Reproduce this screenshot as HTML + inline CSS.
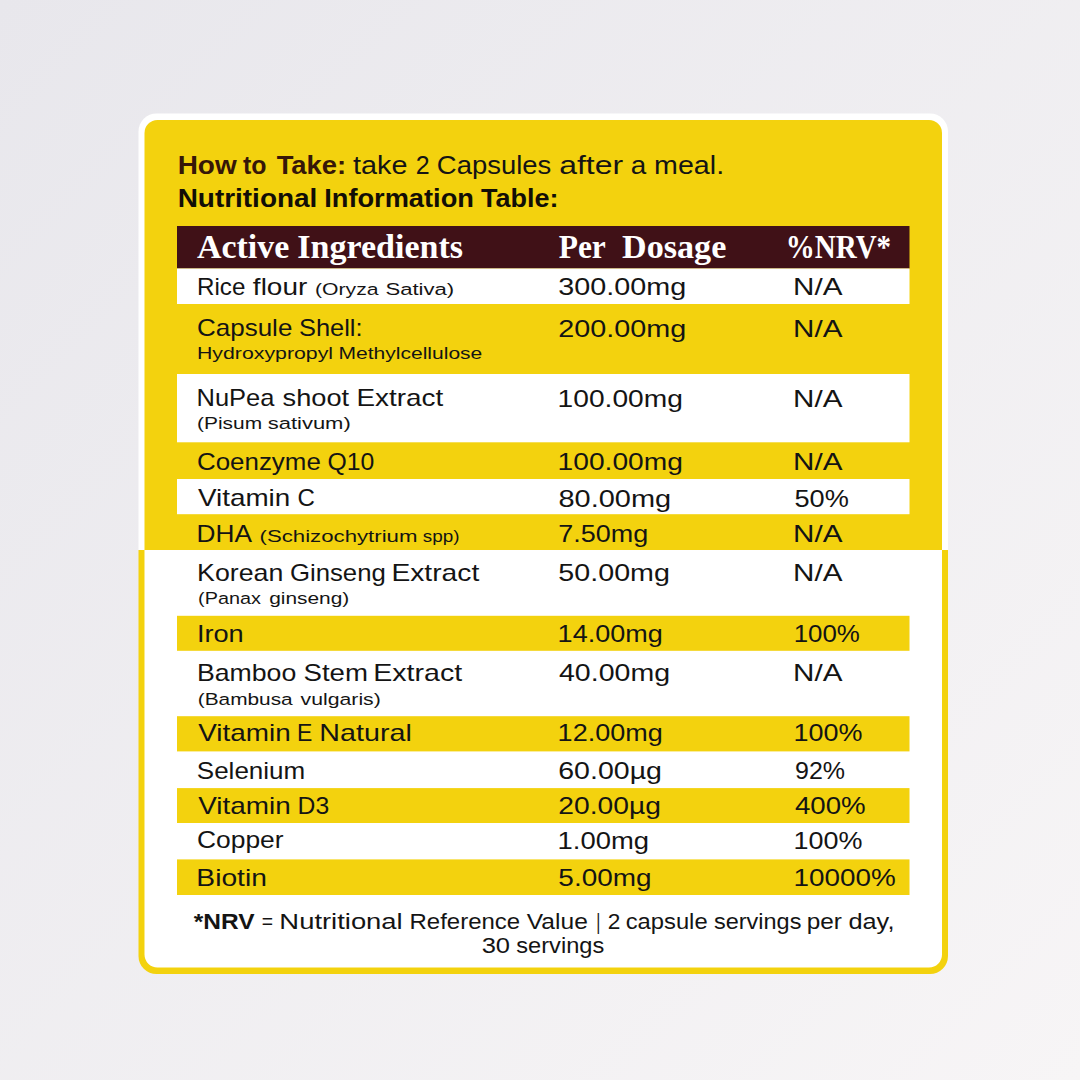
<!DOCTYPE html>
<html><head><meta charset="utf-8"><style>
html,body{margin:0;padding:0;background:#efeef1;}
body{width:1080px;height:1080px;overflow:hidden;font-family:"Liberation Sans", sans-serif;}
svg{display:block;}
</style></head><body>
<svg width="1080" height="1080" viewBox="0 0 1080 1080">
<defs><linearGradient id="bgg" x1="0" y1="0" x2="1" y2="1"><stop offset="0" stop-color="#e8e7ec"/><stop offset="1" stop-color="#f7f5f6"/></linearGradient></defs>
<rect x="0" y="0" width="1080" height="1080" fill="url(#bgg)"/>
<path d="M138.5,550.0 L138.5,131.5 A18,18 0 0 1 156.5,113.5 L930.0,113.5 A18,18 0 0 1 948.0,131.5 L948.0,550.0 Z" fill="#ffffff"/>
<path d="M138.5,550.0 L948.0,550.0 L948.0,956.0 A18,18 0 0 1 930.0,974.0 L156.5,974.0 A18,18 0 0 1 138.5,956.0 Z" fill="#f3d20e"/>
<path d="M144.5,550.0 L144.5,133.0 A13,13 0 0 1 157.5,120.0 L929.0,120.0 A13,13 0 0 1 942.0,133.0 L942.0,550.0 Z" fill="#f3d20e"/>
<path d="M144.5,550.0 L942.0,550.0 L942.0,954.5 A13,13 0 0 1 929.0,967.5 L157.5,967.5 A13,13 0 0 1 144.5,954.5 Z" fill="#ffffff"/>
<rect x="177.0" y="226" width="732.5" height="42.5" fill="#401117"/>
<rect x="177.0" y="268.5" width="732.5" height="35.50" fill="#ffffff"/>
<rect x="177.0" y="374.0" width="732.5" height="68.30" fill="#ffffff"/>
<rect x="177.0" y="479.0" width="732.5" height="35.20" fill="#ffffff"/>
<rect x="177.0" y="615.8" width="732.5" height="35.00" fill="#f3d20e"/>
<rect x="177.0" y="716.2" width="732.5" height="35.20" fill="#f3d20e"/>
<rect x="177.0" y="788.1" width="732.5" height="34.90" fill="#f3d20e"/>
<rect x="177.0" y="859.4" width="732.5" height="35.60" fill="#f3d20e"/>
<text><tspan x="177.65" y="174.00" font-family='"Liberation Sans", sans-serif' font-weight="700" font-size="25.6" fill="#361708" textLength="59.04" lengthAdjust="spacingAndGlyphs">How</tspan> <tspan x="243.06" y="174.00" font-family='"Liberation Sans", sans-serif' font-weight="700" font-size="25.6" fill="#361708" textLength="23.48" lengthAdjust="spacingAndGlyphs">to</tspan> <tspan x="276.67" y="174.00" font-family='"Liberation Sans", sans-serif' font-weight="700" font-size="25.6" fill="#361708" textLength="69.54" lengthAdjust="spacingAndGlyphs">Take:</tspan> <tspan x="353.02" y="174.00" font-family='"Liberation Sans", sans-serif' font-weight="400" font-size="25.6" fill="#141414" textLength="54.44" lengthAdjust="spacingAndGlyphs">take</tspan> <tspan x="415.75" y="174.00" font-family='"Liberation Sans", sans-serif' font-weight="400" font-size="25.6" fill="#141414" textLength="13.89" lengthAdjust="spacingAndGlyphs">2</tspan> <tspan x="436.88" y="174.00" font-family='"Liberation Sans", sans-serif' font-weight="400" font-size="25.6" fill="#141414" textLength="114.46" lengthAdjust="spacingAndGlyphs">Capsules</tspan> <tspan x="559.21" y="174.00" font-family='"Liberation Sans", sans-serif' font-weight="400" font-size="25.6" fill="#141414" textLength="63.85" lengthAdjust="spacingAndGlyphs">after</tspan> <tspan x="630.83" y="174.00" font-family='"Liberation Sans", sans-serif' font-weight="400" font-size="25.6" fill="#141414" textLength="15.49" lengthAdjust="spacingAndGlyphs">a</tspan> <tspan x="654.12" y="174.00" font-family='"Liberation Sans", sans-serif' font-weight="400" font-size="25.6" fill="#141414" textLength="70.00" lengthAdjust="spacingAndGlyphs">meal.</tspan></text>
<text><tspan x="177.65" y="207.20" font-family='"Liberation Sans", sans-serif' font-weight="700" font-size="25.6" fill="#120e06" textLength="139.69" lengthAdjust="spacingAndGlyphs">Nutritional</tspan> <tspan x="324.21" y="207.20" font-family='"Liberation Sans", sans-serif' font-weight="700" font-size="25.6" fill="#120e06" textLength="149.70" lengthAdjust="spacingAndGlyphs">Information</tspan> <tspan x="480.95" y="207.20" font-family='"Liberation Sans", sans-serif' font-weight="700" font-size="25.6" fill="#120e06" textLength="77.45" lengthAdjust="spacingAndGlyphs">Table:</tspan></text>
<text><tspan x="197.00" y="257.60" font-family='"Liberation Serif", serif' font-weight="700" font-size="33.0" fill="#ffffff" textLength="92.34" lengthAdjust="spacingAndGlyphs">Active</tspan> <tspan x="297.21" y="257.60" font-family='"Liberation Serif", serif' font-weight="700" font-size="33.0" fill="#ffffff" textLength="165.82" lengthAdjust="spacingAndGlyphs">Ingredients</tspan> <tspan x="558.69" y="257.50" font-family='"Liberation Serif", serif' font-weight="700" font-size="33.0" fill="#ffffff" textLength="47.12" lengthAdjust="spacingAndGlyphs">Per</tspan> <tspan x="622.07" y="257.50" font-family='"Liberation Serif", serif' font-weight="700" font-size="33.0" fill="#ffffff" textLength="104.27" lengthAdjust="spacingAndGlyphs">Dosage</tspan> <tspan x="785.73" y="257.60" font-family='"Liberation Serif", serif' font-weight="700" font-size="33.0" fill="#ffffff" textLength="105.42" lengthAdjust="spacingAndGlyphs">%NRV*</tspan></text>
<text><tspan x="197.02" y="295.10" font-family='"Liberation Sans", sans-serif' font-weight="400" font-size="23.4" fill="#141414" textLength="48.34" lengthAdjust="spacingAndGlyphs">Rice</tspan> <tspan x="252.89" y="295.10" font-family='"Liberation Sans", sans-serif' font-weight="400" font-size="23.4" fill="#141414" textLength="54.37" lengthAdjust="spacingAndGlyphs">flour</tspan> <tspan x="315.01" y="295.00" font-family='"Liberation Sans", sans-serif' font-weight="400" font-size="17.2" fill="#141414" textLength="63.52" lengthAdjust="spacingAndGlyphs">(Oryza</tspan> <tspan x="385.46" y="295.00" font-family='"Liberation Sans", sans-serif' font-weight="400" font-size="17.2" fill="#141414" textLength="68.78" lengthAdjust="spacingAndGlyphs">Sativa)</tspan> <tspan x="558.37" y="295.30" font-family='"Liberation Sans", sans-serif' font-weight="400" font-size="23.4" fill="#141414" textLength="127.95" lengthAdjust="spacingAndGlyphs">300.00mg</tspan> <tspan x="793.14" y="295.30" font-family='"Liberation Sans", sans-serif' font-weight="400" font-size="23.4" fill="#141414" textLength="49.37" lengthAdjust="spacingAndGlyphs">N/A</tspan></text>
<text><tspan x="196.98" y="335.60" font-family='"Liberation Sans", sans-serif' font-weight="400" font-size="23.4" fill="#141414" textLength="95.40" lengthAdjust="spacingAndGlyphs">Capsule</tspan> <tspan x="298.98" y="335.60" font-family='"Liberation Sans", sans-serif' font-weight="400" font-size="23.4" fill="#141414" textLength="63.59" lengthAdjust="spacingAndGlyphs">Shell:</tspan> <tspan x="558.29" y="337.00" font-family='"Liberation Sans", sans-serif' font-weight="400" font-size="23.4" fill="#141414" textLength="128.03" lengthAdjust="spacingAndGlyphs">200.00mg</tspan> <tspan x="793.14" y="337.00" font-family='"Liberation Sans", sans-serif' font-weight="400" font-size="23.4" fill="#141414" textLength="49.37" lengthAdjust="spacingAndGlyphs">N/A</tspan></text>
<text><tspan x="197.00" y="359.40" font-family='"Liberation Sans", sans-serif' font-weight="400" font-size="17.2" fill="#141414" textLength="136.06" lengthAdjust="spacingAndGlyphs">Hydroxypropyl</tspan> <tspan x="338.50" y="359.40" font-family='"Liberation Sans", sans-serif' font-weight="400" font-size="17.2" fill="#141414" textLength="143.83" lengthAdjust="spacingAndGlyphs">Methylcellulose</tspan></text>
<text><tspan x="196.51" y="406.40" font-family='"Liberation Sans", sans-serif' font-weight="400" font-size="23.4" fill="#141414" textLength="77.86" lengthAdjust="spacingAndGlyphs">NuPea</tspan> <tspan x="282.61" y="406.40" font-family='"Liberation Sans", sans-serif' font-weight="400" font-size="23.4" fill="#141414" textLength="66.59" lengthAdjust="spacingAndGlyphs">shoot</tspan> <tspan x="356.52" y="406.40" font-family='"Liberation Sans", sans-serif' font-weight="400" font-size="23.4" fill="#141414" textLength="86.73" lengthAdjust="spacingAndGlyphs">Extract</tspan> <tspan x="557.62" y="406.70" font-family='"Liberation Sans", sans-serif' font-weight="400" font-size="23.4" fill="#141414" textLength="125.32" lengthAdjust="spacingAndGlyphs">100.00mg</tspan> <tspan x="793.14" y="406.70" font-family='"Liberation Sans", sans-serif' font-weight="400" font-size="23.4" fill="#141414" textLength="49.37" lengthAdjust="spacingAndGlyphs">N/A</tspan></text>
<text><tspan x="197.07" y="429.40" font-family='"Liberation Sans", sans-serif' font-weight="400" font-size="17.2" fill="#141414" textLength="65.08" lengthAdjust="spacingAndGlyphs">(Pisum</tspan> <tspan x="267.68" y="429.40" font-family='"Liberation Sans", sans-serif' font-weight="400" font-size="17.2" fill="#141414" textLength="83.09" lengthAdjust="spacingAndGlyphs">sativum)</tspan></text>
<text><tspan x="196.99" y="469.60" font-family='"Liberation Sans", sans-serif' font-weight="400" font-size="23.4" fill="#141414" textLength="123.84" lengthAdjust="spacingAndGlyphs">Coenzyme</tspan> <tspan x="327.52" y="469.60" font-family='"Liberation Sans", sans-serif' font-weight="400" font-size="23.4" fill="#141414" textLength="46.82" lengthAdjust="spacingAndGlyphs">Q10</tspan> <tspan x="557.62" y="470.30" font-family='"Liberation Sans", sans-serif' font-weight="400" font-size="23.4" fill="#141414" textLength="125.32" lengthAdjust="spacingAndGlyphs">100.00mg</tspan> <tspan x="793.14" y="470.30" font-family='"Liberation Sans", sans-serif' font-weight="400" font-size="23.4" fill="#141414" textLength="49.37" lengthAdjust="spacingAndGlyphs">N/A</tspan></text>
<text><tspan x="197.94" y="505.80" font-family='"Liberation Sans", sans-serif' font-weight="400" font-size="23.4" fill="#141414" textLength="92.34" lengthAdjust="spacingAndGlyphs">Vitamin</tspan> <tspan x="297.43" y="505.80" font-family='"Liberation Sans", sans-serif' font-weight="400" font-size="23.4" fill="#141414" textLength="17.38" lengthAdjust="spacingAndGlyphs">C</tspan> <tspan x="558.52" y="506.60" font-family='"Liberation Sans", sans-serif' font-weight="400" font-size="23.4" fill="#141414" textLength="112.65" lengthAdjust="spacingAndGlyphs">80.00mg</tspan> <tspan x="794.43" y="506.60" font-family='"Liberation Sans", sans-serif' font-weight="400" font-size="23.4" fill="#141414" textLength="54.39" lengthAdjust="spacingAndGlyphs">50%</tspan></text>
<text><tspan x="196.50" y="542.20" font-family='"Liberation Sans", sans-serif' font-weight="400" font-size="23.4" fill="#141414" textLength="55.41" lengthAdjust="spacingAndGlyphs">DHA</tspan> <tspan x="259.51" y="542.00" font-family='"Liberation Sans", sans-serif' font-weight="400" font-size="17.2" fill="#141414" textLength="158.00" lengthAdjust="spacingAndGlyphs">(Schizochytrium</tspan> <tspan x="422.83" y="542.00" font-family='"Liberation Sans", sans-serif' font-weight="400" font-size="17.2" fill="#141414" textLength="36.73" lengthAdjust="spacingAndGlyphs">spp)</tspan> <tspan x="558.36" y="542.20" font-family='"Liberation Sans", sans-serif' font-weight="400" font-size="23.4" fill="#141414" textLength="89.91" lengthAdjust="spacingAndGlyphs">7.50mg</tspan> <tspan x="793.14" y="542.20" font-family='"Liberation Sans", sans-serif' font-weight="400" font-size="23.4" fill="#141414" textLength="49.37" lengthAdjust="spacingAndGlyphs">N/A</tspan></text>
<text><tspan x="197.06" y="580.60" font-family='"Liberation Sans", sans-serif' font-weight="400" font-size="23.4" fill="#141414" textLength="86.22" lengthAdjust="spacingAndGlyphs">Korean</tspan> <tspan x="289.92" y="580.60" font-family='"Liberation Sans", sans-serif' font-weight="400" font-size="23.4" fill="#141414" textLength="95.93" lengthAdjust="spacingAndGlyphs">Ginseng</tspan> <tspan x="391.43" y="580.60" font-family='"Liberation Sans", sans-serif' font-weight="400" font-size="23.4" fill="#141414" textLength="87.83" lengthAdjust="spacingAndGlyphs">Extract</tspan> <tspan x="558.34" y="580.50" font-family='"Liberation Sans", sans-serif' font-weight="400" font-size="23.4" fill="#141414" textLength="111.61" lengthAdjust="spacingAndGlyphs">50.00mg</tspan> <tspan x="793.14" y="580.50" font-family='"Liberation Sans", sans-serif' font-weight="400" font-size="23.4" fill="#141414" textLength="49.37" lengthAdjust="spacingAndGlyphs">N/A</tspan></text>
<text><tspan x="198.09" y="604.20" font-family='"Liberation Sans", sans-serif' font-weight="400" font-size="17.2" fill="#141414" textLength="62.78" lengthAdjust="spacingAndGlyphs">(Panax</tspan> <tspan x="269.20" y="604.20" font-family='"Liberation Sans", sans-serif' font-weight="400" font-size="17.2" fill="#141414" textLength="80.13" lengthAdjust="spacingAndGlyphs">ginseng)</tspan></text>
<text><tspan x="196.91" y="641.80" font-family='"Liberation Sans", sans-serif' font-weight="400" font-size="23.4" fill="#141414" textLength="46.84" lengthAdjust="spacingAndGlyphs">Iron</tspan> <tspan x="557.63" y="641.60" font-family='"Liberation Sans", sans-serif' font-weight="400" font-size="23.4" fill="#141414" textLength="105.11" lengthAdjust="spacingAndGlyphs">14.00mg</tspan> <tspan x="793.67" y="641.60" font-family='"Liberation Sans", sans-serif' font-weight="400" font-size="23.4" fill="#141414" textLength="66.18" lengthAdjust="spacingAndGlyphs">100%</tspan></text>
<text><tspan x="196.91" y="681.40" font-family='"Liberation Sans", sans-serif' font-weight="400" font-size="23.4" fill="#141414" textLength="99.33" lengthAdjust="spacingAndGlyphs">Bamboo</tspan> <tspan x="303.52" y="681.40" font-family='"Liberation Sans", sans-serif' font-weight="400" font-size="23.4" fill="#141414" textLength="64.46" lengthAdjust="spacingAndGlyphs">Stem</tspan> <tspan x="373.25" y="681.40" font-family='"Liberation Sans", sans-serif' font-weight="400" font-size="23.4" fill="#141414" textLength="88.87" lengthAdjust="spacingAndGlyphs">Extract</tspan> <tspan x="559.03" y="681.40" font-family='"Liberation Sans", sans-serif' font-weight="400" font-size="23.4" fill="#141414" textLength="110.99" lengthAdjust="spacingAndGlyphs">40.00mg</tspan> <tspan x="793.14" y="681.40" font-family='"Liberation Sans", sans-serif' font-weight="400" font-size="23.4" fill="#141414" textLength="49.37" lengthAdjust="spacingAndGlyphs">N/A</tspan></text>
<text><tspan x="197.80" y="705.00" font-family='"Liberation Sans", sans-serif' font-weight="400" font-size="17.2" fill="#141414" textLength="94.91" lengthAdjust="spacingAndGlyphs">(Bambusa</tspan> <tspan x="300.61" y="705.00" font-family='"Liberation Sans", sans-serif' font-weight="400" font-size="17.2" fill="#141414" textLength="80.16" lengthAdjust="spacingAndGlyphs">vulgaris)</tspan></text>
<text><tspan x="198.24" y="741.40" font-family='"Liberation Sans", sans-serif' font-weight="400" font-size="23.4" fill="#141414" textLength="92.50" lengthAdjust="spacingAndGlyphs">Vitamin</tspan> <tspan x="297.00" y="741.40" font-family='"Liberation Sans", sans-serif' font-weight="400" font-size="23.4" fill="#141414" textLength="15.34" lengthAdjust="spacingAndGlyphs">E</tspan> <tspan x="319.36" y="741.40" font-family='"Liberation Sans", sans-serif' font-weight="400" font-size="23.4" fill="#141414" textLength="92.44" lengthAdjust="spacingAndGlyphs">Natural</tspan> <tspan x="557.63" y="741.40" font-family='"Liberation Sans", sans-serif' font-weight="400" font-size="23.4" fill="#141414" textLength="105.11" lengthAdjust="spacingAndGlyphs">12.00mg</tspan> <tspan x="793.61" y="741.40" font-family='"Liberation Sans", sans-serif' font-weight="400" font-size="23.4" fill="#141414" textLength="68.97" lengthAdjust="spacingAndGlyphs">100%</tspan></text>
<text><tspan x="196.81" y="778.80" font-family='"Liberation Sans", sans-serif' font-weight="400" font-size="23.4" fill="#141414" textLength="108.42" lengthAdjust="spacingAndGlyphs">Selenium</tspan> <tspan x="558.22" y="778.50" font-family='"Liberation Sans", sans-serif' font-weight="400" font-size="23.4" fill="#141414" textLength="103.75" lengthAdjust="spacingAndGlyphs">60.00µg</tspan> <tspan x="794.99" y="778.50" font-family='"Liberation Sans", sans-serif' font-weight="400" font-size="23.4" fill="#141414" textLength="50.03" lengthAdjust="spacingAndGlyphs">92%</tspan></text>
<text><tspan x="198.24" y="814.20" font-family='"Liberation Sans", sans-serif' font-weight="400" font-size="23.4" fill="#141414" textLength="92.50" lengthAdjust="spacingAndGlyphs">Vitamin</tspan> <tspan x="297.57" y="814.20" font-family='"Liberation Sans", sans-serif' font-weight="400" font-size="23.4" fill="#141414" textLength="31.59" lengthAdjust="spacingAndGlyphs">D3</tspan> <tspan x="558.30" y="814.30" font-family='"Liberation Sans", sans-serif' font-weight="400" font-size="23.4" fill="#141414" textLength="102.63" lengthAdjust="spacingAndGlyphs">20.00µg</tspan> <tspan x="794.97" y="814.30" font-family='"Liberation Sans", sans-serif' font-weight="400" font-size="23.4" fill="#141414" textLength="70.75" lengthAdjust="spacingAndGlyphs">400%</tspan></text>
<text><tspan x="196.96" y="848.40" font-family='"Liberation Sans", sans-serif' font-weight="400" font-size="23.4" fill="#141414" textLength="86.61" lengthAdjust="spacingAndGlyphs">Copper</tspan> <tspan x="557.57" y="849.30" font-family='"Liberation Sans", sans-serif' font-weight="400" font-size="23.4" fill="#141414" textLength="91.45" lengthAdjust="spacingAndGlyphs">1.00mg</tspan> <tspan x="793.61" y="849.30" font-family='"Liberation Sans", sans-serif' font-weight="400" font-size="23.4" fill="#141414" textLength="68.97" lengthAdjust="spacingAndGlyphs">100%</tspan></text>
<text><tspan x="196.34" y="885.90" font-family='"Liberation Sans", sans-serif' font-weight="400" font-size="23.4" fill="#141414" textLength="70.60" lengthAdjust="spacingAndGlyphs">Biotin</tspan> <tspan x="558.39" y="886.00" font-family='"Liberation Sans", sans-serif' font-weight="400" font-size="23.4" fill="#141414" textLength="93.18" lengthAdjust="spacingAndGlyphs">5.00mg</tspan> <tspan x="793.49" y="886.00" font-family='"Liberation Sans", sans-serif' font-weight="400" font-size="23.4" fill="#141414" textLength="102.16" lengthAdjust="spacingAndGlyphs">10000%</tspan></text>
<text><tspan x="193.85" y="928.90" font-family='"Liberation Sans", sans-serif' font-weight="700" font-size="22.2" fill="#141414" textLength="60.77" lengthAdjust="spacingAndGlyphs">*NRV</tspan> <tspan x="261.82" y="928.90" font-family='"Liberation Sans", sans-serif' font-weight="400" font-size="22.2" fill="#141414" textLength="11.30" lengthAdjust="spacingAndGlyphs">=</tspan> <tspan x="279.39" y="928.90" font-family='"Liberation Sans", sans-serif' font-weight="400" font-size="22.2" fill="#141414" textLength="123.29" lengthAdjust="spacingAndGlyphs">Nutritional</tspan> <tspan x="409.56" y="928.90" font-family='"Liberation Sans", sans-serif' font-weight="400" font-size="22.2" fill="#141414" textLength="110.62" lengthAdjust="spacingAndGlyphs">Reference</tspan> <tspan x="526.80" y="928.90" font-family='"Liberation Sans", sans-serif' font-weight="400" font-size="22.2" fill="#141414" textLength="61.05" lengthAdjust="spacingAndGlyphs">Value</tspan> <tspan x="596.31" y="928.90" font-family='"Liberation Sans", sans-serif' font-weight="400" font-size="22.2" fill="#141414" textLength="4.10" lengthAdjust="spacingAndGlyphs">|</tspan> <tspan x="607.65" y="928.90" font-family='"Liberation Sans", sans-serif' font-weight="400" font-size="22.2" fill="#141414" textLength="12.62" lengthAdjust="spacingAndGlyphs">2</tspan> <tspan x="625.69" y="928.90" font-family='"Liberation Sans", sans-serif' font-weight="400" font-size="22.2" fill="#141414" textLength="81.92" lengthAdjust="spacingAndGlyphs">capsule</tspan> <tspan x="714.03" y="928.90" font-family='"Liberation Sans", sans-serif' font-weight="400" font-size="22.2" fill="#141414" textLength="87.37" lengthAdjust="spacingAndGlyphs">servings</tspan> <tspan x="806.75" y="928.90" font-family='"Liberation Sans", sans-serif' font-weight="400" font-size="22.2" fill="#141414" textLength="35.22" lengthAdjust="spacingAndGlyphs">per</tspan> <tspan x="848.46" y="928.90" font-family='"Liberation Sans", sans-serif' font-weight="400" font-size="22.2" fill="#141414" textLength="45.98" lengthAdjust="spacingAndGlyphs">day,</tspan></text>
<text><tspan x="481.67" y="952.80" font-family='"Liberation Sans", sans-serif' font-weight="400" font-size="22.2" fill="#141414" textLength="28.43" lengthAdjust="spacingAndGlyphs">30</tspan> <tspan x="516.30" y="952.80" font-family='"Liberation Sans", sans-serif' font-weight="400" font-size="22.2" fill="#141414" textLength="87.96" lengthAdjust="spacingAndGlyphs">servings</tspan></text>
</svg>
</body></html>
